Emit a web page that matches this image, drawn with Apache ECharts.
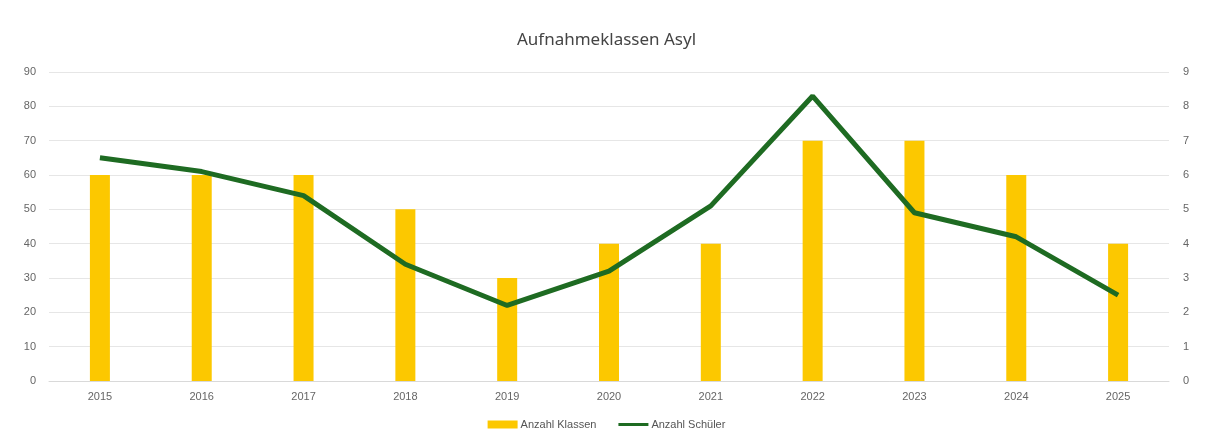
<!DOCTYPE html>
<html>
<head>
<meta charset="utf-8">
<script src="https://cdn.jsdelivr.net/npm/echarts@6/dist/echarts.min.js"></script>
<style>
  html, body { margin: 0; padding: 0; background: #fff; }
  #chart { width: 1213px; height: 443px; }
</style>
</head>
<body>
<div id="chart"></div>
<script>
var years = ['2015', '2016', '2017', '2018', '2019', '2020', '2021', '2022', '2023', '2024', '2025'];
var klassen = [6, 6, 6, 5, 3, 4, 4, 7, 7, 6, 4];
var schueler = [65, 61, 54, 34, 22, 32, 51, 83, 49, 42, 25];

var chart = echarts.init(document.getElementById('chart'));

var axisText = { color: '#666', fontSize: 11, fontFamily: 'Liberation Sans' };

chart.setOption({
  animation: false,
  title: {
    text: 'Aufnahmeklassen Asyl',
    left: 'center',
    top: 27,
    textStyle: { color: '#444', fontSize: 17, fontWeight: 'normal', fontFamily: 'Noto Sans' }
  },
  legend: {
    bottom: 8,
    left: 'center',
    itemGap: 22,
    itemWidth: 30,
    itemHeight: 8,
    textStyle: { color: '#555', fontSize: 11, fontFamily: 'Liberation Sans', padding: [0, 0, 0, -2] },
    data: [
      { name: 'Anzahl Klassen', icon: 'rect' },
      { name: 'Anzahl Schüler', icon: 'path://M0,2.5 L30,2.5 L30,5.5 L0,5.5 Z' }
    ]
  },
  grid: { left: 49, right: 44, top: 72, bottom: 62 },
  xAxis: {
    type: 'category',
    data: years,
    axisTick: { show: false },
    axisLine: { lineStyle: { color: '#d9d9d9' } },
    axisLabel: Object.assign({ margin: 10 }, axisText)
  },
  yAxis: [
    {
      type: 'value',
      min: 0, max: 90, interval: 10,
      axisLabel: Object.assign({ margin: 13 }, axisText),
      splitLine: { lineStyle: { color: '#e6e6e6' } }
    },
    {
      type: 'value',
      min: 0, max: 9, interval: 1,
      position: 'right',
      axisLabel: Object.assign({ margin: 14 }, axisText),
      splitLine: { show: false }
    }
  ],
  series: [
    {
      name: 'Anzahl Klassen',
      type: 'bar',
      yAxisIndex: 1,
      data: klassen,
      barWidth: 20,
      itemStyle: { color: '#FCC800' }
    },
    {
      name: 'Anzahl Schüler',
      type: 'line',
      yAxisIndex: 0,
      data: schueler,
      symbol: 'none',
      lineStyle: { color: '#1E6B22', width: 5 },
      itemStyle: { color: '#1E6B22' }
    }
  ]
});
</script>
</body>
</html>
